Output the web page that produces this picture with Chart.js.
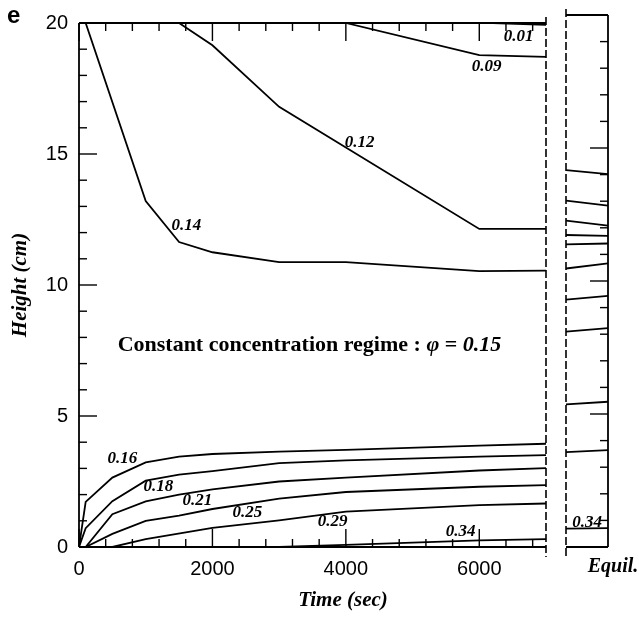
<!DOCTYPE html>
<html>
<head>
<meta charset="utf-8">
<script src="https://cdn.jsdelivr.net/npm/chart.js@4.4.0/dist/chart.umd.min.js"></script>
<style>
  html, body { margin: 0; padding: 0; background: #fff; }
  #wrap { position: relative; width: 639px; height: 618px; }
  #wrap canvas { position: absolute; left: 0; top: 0; }
</style>
</head>
<body>
<div id="wrap">
  <canvas id="mainChart" width="639" height="618"></canvas>
  <canvas id="equilChart" width="639" height="618"></canvas>
</div>
<script>
// time axis (sec) shared by all the curves, null = no point there
const times = [0, 100, 500, 1000, 1500, 2000, 3000, 4000, 6000, 6200, 7000];

// interface heights (cm) for each volume fraction
const h001 = [null, null, null, null, null, null, null, null, null, 20, 19.93];
const h009 = [null, null, null, null, null, null, null, 20, 18.77, null, 18.71];
const h012 = [null, null, null, null, 20, 19.15, 16.8, null, 12.14, null, 12.14];
const h014 = [null, 20, null, 13.2, 11.64, 11.25, 10.87, 10.87, 10.53, null, 10.55];
const h016 = [0, 1.72, 2.65, 3.23, 3.45, 3.55, 3.64, 3.71, 3.87, null, 3.94];
const h018 = [0, 0.72, 1.75, 2.53, 2.76, 2.9, 3.2, 3.31, 3.45, null, 3.51];
const h021 = [null, 0, 1.25, 1.74, 2.0, 2.2, 2.5, 2.65, 2.92, null, 3.01];
const h025 = [null, 0, 0.5, 1.0, 1.2, 1.45, 1.85, 2.1, 2.3, null, 2.36];
const h029 = [null, null, 0, 0.3, null, 0.73, 1.02, 1.35, 1.6, null, 1.66];
const h034 = [null, null, null, null, null, null, 0, 0.08, 0.25, null, 0.3];

const seriesValues = [h001, h009, h012, h014, h016, h018, h021, h025, h029, h034];

// curve labels and where they sit (data coords)
const phiLabels = ["0.01", "0.09", "0.12", "0.14", "0.16", "0.18", "0.21", "0.25", "0.29", "0.34"];
const labelTime = [6590, 6110, 4205, 1610, 650, 1190, 1775, 2525, 3800, 5720];
const labelHeight = [19.47, 18.35, 15.45, 12.25, 3.37, 2.32, 1.76, 1.31, 0.97, 0.59];

// equilibrium panel: height at left and right edge of each segment
const equilLeft = [14.17, 13.02, 12.27, 11.73, 11.38, 10.47, 9.3, 8.1, 5.36, 3.57, 0.69];
const equilRight = [14.02, 12.83, 12.08, 11.70, 11.41, 10.66, 9.44, 8.23, 5.46, 3.64, 0.71];

const xTicks = [0, 2000, 4000, 6000];
const yTicks = [0, 5, 10, 15, 20];

const serif = "'Liberation Serif', 'Times New Roman', serif";
const sans = "'Liberation Sans', Arial, sans-serif";

function line(ctx, x1, y1, x2, y2) {
  ctx.beginPath();
  ctx.moveTo(x1, y1);
  ctx.lineTo(x2, y2);
  ctx.stroke();
}

const mainFrame = {
  id: "mainFrame",
  afterDraw(chart) {
    const ctx = chart.ctx;
    const xs = chart.scales.x, ys = chart.scales.y;
    const { left, right, top, bottom } = chart.chartArea;
    ctx.save();
    ctx.strokeStyle = "#000";
    ctx.lineWidth = 1.8;
    line(ctx, left, top, left, bottom);
    line(ctx, left, top, right, top);
    line(ctx, left, bottom, right, bottom);

    // inward ticks
    ctx.lineWidth = 1.4;
    for (let v = 0; v < 7000; v += 400) {
      const px = xs.getPixelForValue(v);
      const len = v % 2000 === 0 ? 18 : 8;
      line(ctx, px, bottom, px, bottom - len);
      line(ctx, px, top, px, top + len);
    }
    for (let v = 0; v <= 20; v++) {
      const py = ys.getPixelForValue(v);
      const len = v % 5 === 0 ? 18 : 8;
      line(ctx, left, py, left + len, py);
    }

    // dashed right edge
    ctx.lineWidth = 1.6;
    ctx.setLineDash([8, 3]);
    line(ctx, right, top - 6, right, bottom + 10);
    ctx.setLineDash([]);

    // curve labels
    ctx.fillStyle = "#000";
    ctx.font = "italic bold 17px " + serif;
    ctx.textAlign = "center";
    ctx.textBaseline = "middle";
    phiLabels.forEach((t, i) => {
      ctx.fillText(t, xs.getPixelForValue(labelTime[i]), ys.getPixelForValue(labelHeight[i]));
    });

    // regime annotation
    let ax = xs.getPixelForValue(579);
    const ay = ys.getPixelForValue(7.71);
    ctx.textAlign = "left";
    const parts = [
      ["Constant concentration regime : ", "bold 22px " + serif],
      ["\u03C6", "italic bold 22px " + serif],
      [" = ", "bold 22px " + serif],
      ["0.15", "italic bold 22px " + serif]
    ];
    parts.forEach(([t, f]) => {
      ctx.font = f;
      ctx.fillText(t, ax, ay);
      ax += ctx.measureText(t).width;
    });

    // panel letter and x title
    ctx.font = "bold 24px " + sans;
    ctx.fillText("e", 7, 16);
    ctx.textAlign = "center";
    ctx.font = "italic bold 21px " + serif;
    ctx.fillText("Time (sec)", 343, 601);
    ctx.restore();
  }
};

const mainDatasets = seriesValues.map((vals, i) => ({
  label: phiLabels[i],
  data: times.map((t, j) => ({ x: t, y: vals[j] })),
  borderColor: "#000",
  borderWidth: 1.8,
  pointRadius: 0,
  tension: 0,
  fill: false,
  spanGaps: true
}));

new Chart(document.getElementById("mainChart"), {
  type: "line",
  data: { datasets: mainDatasets },
  options: {
    responsive: false,
    animation: false,
    layout: { padding: { top: 15, right: 93, left: 0, bottom: 0 } },
    plugins: { legend: { display: false }, tooltip: { enabled: false } },
    scales: {
      x: {
        type: "linear",
        min: 0,
        max: 7000,
        grid: { display: false, drawTicks: false },
        border: { display: false },
        afterBuildTicks: s => { s.ticks = xTicks.map(v => ({ value: v })); },
        afterFit: s => { s.height = 71; },
        ticks: {
          autoSkip: false,
          maxRotation: 0,
          padding: 10,
          color: "#000",
          font: { family: sans, size: 20 },
          callback: v => String(v)
        }
      },
      y: {
        type: "linear",
        min: 0,
        max: 20,
        grid: { display: false, drawTicks: false },
        border: { display: false },
        afterBuildTicks: s => { s.ticks = yTicks.map(v => ({ value: v })); },
        afterFit: s => { s.width = 79; },
        ticks: {
          padding: 11,
          color: "#000",
          font: { family: sans, size: 20 },
          callback: v => String(v)
        },
        title: {
          display: true,
          text: "Height (cm)",
          color: "#000",
          font: { family: serif, size: 21, style: "italic", weight: "bold" },
          padding: { top: 8, bottom: 0 }
        }
      }
    }
  },
  plugins: [mainFrame]
});

// equilibrium panel on the right
const equilFrame = {
  id: "equilFrame",
  afterDraw(chart) {
    const ctx = chart.ctx;
    const xs = chart.scales.x, ys = chart.scales.y;
    const { left, right, top, bottom } = chart.chartArea;
    ctx.save();
    ctx.strokeStyle = "#000";
    ctx.lineWidth = 1.8;
    line(ctx, left, top, right, top);
    line(ctx, left, bottom, right, bottom);
    line(ctx, right, top, right, bottom);
    ctx.lineWidth = 1.4;
    for (let v = 0; v <= 20; v++) {
      const py = ys.getPixelForValue(v);
      const len = v % 5 === 0 ? 18 : 8;
      line(ctx, right, py, right - len, py);
    }
    ctx.lineWidth = 1.6;
    ctx.setLineDash([8, 3]);
    line(ctx, left, top - 6, left, bottom + 10);
    ctx.setLineDash([]);

    ctx.fillStyle = "#000";
    ctx.textAlign = "center";
    ctx.textBaseline = "middle";
    ctx.font = "italic bold 17px " + serif;
    ctx.fillText("0.34", xs.getPixelForValue(0.5), ys.getPixelForValue(0.93));
    ctx.font = "italic bold 20px " + serif;
    ctx.fillText("Equil.", 613, 567);
    ctx.restore();
  }
};

new Chart(document.getElementById("equilChart"), {
  type: "line",
  data: {
    datasets: equilLeft.map((l, i) => ({
      data: [{ x: 0, y: l }, { x: 1, y: equilRight[i] }],
      borderColor: "#000",
      borderWidth: 1.8,
      pointRadius: 0,
      fill: false
    }))
  },
  options: {
    responsive: false,
    animation: false,
    layout: { padding: { top: 15, right: 31, left: 566, bottom: 71 } },
    plugins: { legend: { display: false }, tooltip: { enabled: false } },
    scales: {
      x: { type: "linear", min: 0, max: 1, display: false },
      y: { type: "linear", min: 0, max: 20, display: false }
    }
  },
  plugins: [equilFrame]
});
</script>
</body>
</html>
